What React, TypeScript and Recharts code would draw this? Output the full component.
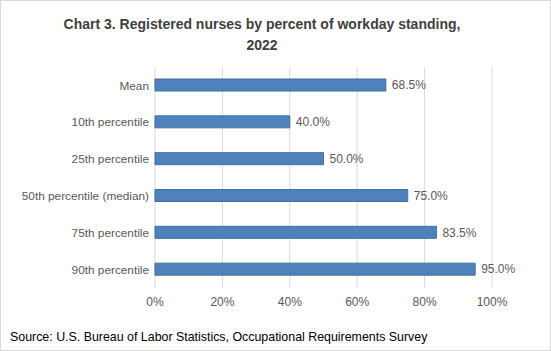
import { Bar, BarChart, CartesianGrid, LabelList, XAxis, YAxis } from "recharts";

const categories = [
  "Mean",
  "10th percentile",
  "25th percentile",
  "50th percentile (median)",
  "75th percentile",
  "90th percentile",
];
const percentStanding = [68.5, 40.0, 50.0, 75.0, 83.5, 95.0];
const xTicks = [0, 20, 40, 60, 80, 100];

const data = categories.map((name, i) => ({ name, value: percentStanding[i] }));

const FONT = "'Liberation Sans', Arial, sans-serif";

function CategoryTick({ x, y, payload }: any) {
  return (
    <text x={x} y={y} dy="0.35em" textAnchor="end" fontSize={11.8} fill="#595959" fontFamily={FONT}>
      {payload.value}
    </text>
  );
}

export default function App() {
  return (
    <div
      style={{
        position: "absolute",
        left: 0,
        top: 0,
        width: 551,
        height: 351,
        background: "#fff",
        fontFamily: FONT,
        boxSizing: "border-box",
        border: "1px solid #d9d9d9",
      }}
    >
      <div
        style={{
          position: "absolute",
          top: 13,
          left: 0,
          width: 522,
          textAlign: "center",
          fontWeight: 700,
          fontSize: 14,
          lineHeight: "21px",
          color: "#404040",
        }}
      >
        Chart 3. Registered nurses by percent of workday standing,
        <br />
        2022
      </div>
      <div style={{ position: "absolute", left: 0, top: 0 }}>
        <BarChart
          width={551}
          height={351}
          data={data}
          layout="vertical"
          margin={{ top: 66, right: 60, left: 0, bottom: 34 }}
          barCategoryGap={0}
        >
          <CartesianGrid horizontal={false} stroke="#d9d9d9" />
          <XAxis
            type="number"
            domain={[0, 100]}
            ticks={xTicks}
            tickFormatter={(v) => `${v}%`}
            axisLine={false}
            tickLine={false}
            tickSize={0}
            tickMargin={9}
            height={30}
            tick={{ fontSize: 12, fill: "#595959", fontFamily: FONT }}
            interval={0}
          />
          <YAxis
            type="category"
            dataKey="name"
            width={154}
            axisLine={false}
            tickLine={false}
            tickSize={0}
            tickMargin={6}
            tick={<CategoryTick />}
            interval={0}
          />
          <Bar
            dataKey="value"
            fill="#4f81bd"
            stroke="#41719c"
            strokeWidth={1}
            barSize={12}
            isAnimationActive={false}
          >
            <LabelList
              dataKey="value"
              position="right"
              offset={6}
              formatter={(v: number) => `${v.toFixed(1)}%`}
              style={{ fontSize: 12, fill: "#595959", fontFamily: FONT }}
            />
          </Bar>
        </BarChart>
      </div>
      <div
        style={{
          position: "absolute",
          left: 9,
          top: 329,
          fontSize: 12.4,
          color: "#000",
          whiteSpace: "nowrap",
        }}
      >
        Source: U.S. Bureau of Labor Statistics, Occupational Requirements Survey
      </div>
    </div>
  );
}
